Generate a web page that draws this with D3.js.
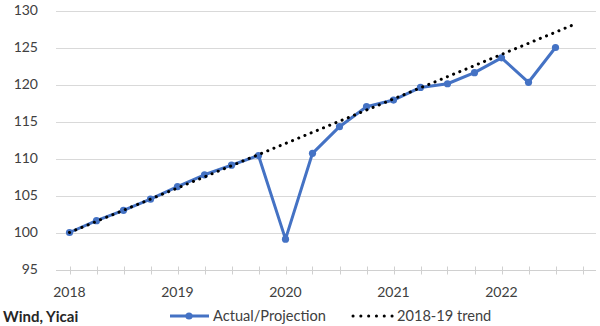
<!DOCTYPE html>
<html>
<head>
<meta charset="utf-8">
<script src="https://cdn.jsdelivr.net/npm/d3@7"></script>
<style>
  html, body { margin: 0; padding: 0; background: #fff; }
  svg { display: block; font-family: Lato, "Open Sans", sans-serif; }
</style>
</head>
<body>
<svg id="chart" width="600" height="326"></svg>
<script>
// Quarterly categories 2018Q1 .. 2022Q4
const quarters = ["2018Q1","2018Q2","2018Q3","2018Q4","2019Q1","2019Q2","2019Q3","2019Q4",
                  "2020Q1","2020Q2","2020Q3","2020Q4","2021Q1","2021Q2","2021Q3","2021Q4",
                  "2022Q1","2022Q2","2022Q3","2022Q4"];
// Actual/Projection index (2018Q1 = 100)
const actual = [100, 101.6, 103.0, 104.5, 106.2, 107.8, 109.1, 110.4,
                99.1, 110.7, 114.3, 117.0, 117.9, 119.6, 120.1, 121.6,
                123.6, 120.3, 125.0];
// 2018-19 trend line: start and end (position in quarters from 2018Q1, value)
const trendPos = [0, 18.75];
const trendVal = [100, 128.2];
const yTicks = [95, 100, 105, 110, 115, 120, 125, 130];
const yearLabels = ["2018", "2019", "2020", "2021", "2022"];
const yearPos = [0, 4, 8, 12, 16];
const seriesNames = ["Actual/Projection", "2018-19 trend"];
const source = "Wind, Yicai";

const blue = "#4472C4";
const svg = d3.select("#chart");

const x = d3.scaleLinear().domain([-0.5, quarters.length - 0.5]).range([56, 596]);
const y = d3.scaleLinear().domain([95, 130]).range([269.5, 10.5]);

// Gridlines
svg.append("g")
  .selectAll("line").data(yTicks.filter(d => d !== 95)).join("line")
  .attr("x1", x(-0.5)).attr("x2", x(quarters.length - 0.5))
  .attr("y1", d => Math.round(y(d)) + 0.5).attr("y2", d => Math.round(y(d)) + 0.5)
  .attr("stroke", "#d9d9d9").attr("stroke-width", 1);

// Y axis labels
const yAxis = d3.axisLeft(y).tickValues(yTicks).tickSize(0).tickPadding(0);
const gy = svg.append("g").attr("transform", "translate(38,0)").call(yAxis);
gy.select(".domain").remove();
gy.selectAll("text").attr("font-size", 14).attr("fill", "#404040")
  .attr("font-family", "Lato, 'Open Sans', sans-serif");

// X axis line with quarter ticks
const gx = svg.append("g").attr("transform", `translate(0,${Math.round(y(95)) + 0.5})`);
gx.append("line").attr("x1", x(-0.5)).attr("x2", x(quarters.length - 0.5))
  .attr("stroke", "#d0d0d0").attr("stroke-width", 1);
gx.selectAll("line.tick").data(d3.range(quarters.length)).join("line")
  .attr("class", "tick")
  .attr("x1", i => Math.round(x(i)) + 0.5).attr("x2", i => Math.round(x(i)) + 0.5)
  .attr("y1", -4).attr("y2", 4)
  .attr("stroke", "#d0d0d0").attr("stroke-width", 1);
gx.selectAll("text").data(yearLabels).join("text")
  .attr("x", (d, i) => x(yearPos[i])).attr("y", 26)
  .attr("text-anchor", "middle").attr("font-size", 14).attr("fill", "#404040")
  .text(d => d);

// Actual line
const line = d3.line().x((d, i) => x(i)).y(d => y(d));
svg.append("path").datum(actual)
  .attr("d", line)
  .attr("fill", "none").attr("stroke", blue).attr("stroke-width", 3)
  .attr("stroke-linejoin", "round");
svg.append("g").selectAll("circle").data(actual).join("circle")
  .attr("cx", (d, i) => x(i)).attr("cy", d => y(d)).attr("r", 3.6)
  .attr("fill", blue);

// Trend line (dotted), drawn on top
const trendData = trendPos.map((p, i) => [p, trendVal[i]]);
svg.append("path").datum(trendData)
  .attr("d", d3.line().x(d => x(d[0])).y(d => y(d[1])))
  .attr("fill", "none").attr("stroke", "#000").attr("stroke-width", 3)
  .attr("stroke-linecap", "round").attr("stroke-dasharray", "0.1 6.6");

// Source
svg.append("text").attr("x", 3).attr("y", 322)
  .attr("font-size", 15).attr("font-weight", "bold").attr("fill", "#262626")
  .text(source);

// Legend
const lg = svg.append("g");
lg.append("line").attr("x1", 170).attr("x2", 209).attr("y1", 316).attr("y2", 316)
  .attr("stroke", blue).attr("stroke-width", 3);
lg.append("circle").attr("cx", 189).attr("cy", 316).attr("r", 3.6).attr("fill", blue);
lg.append("text").attr("x", 213).attr("y", 321).attr("font-size", 14.6).attr("fill", "#404040")
  .text(seriesNames[0]);
lg.append("line").attr("x1", 353).attr("x2", 393).attr("y1", 316).attr("y2", 316)
  .attr("stroke", "#000").attr("stroke-width", 3).attr("stroke-linecap", "round")
  .attr("stroke-dasharray", "0.1 7.7");
lg.append("text").attr("x", 397).attr("y", 321).attr("font-size", 14.6).attr("fill", "#404040")
  .text(seriesNames[1]);
</script>
</body>
</html>
